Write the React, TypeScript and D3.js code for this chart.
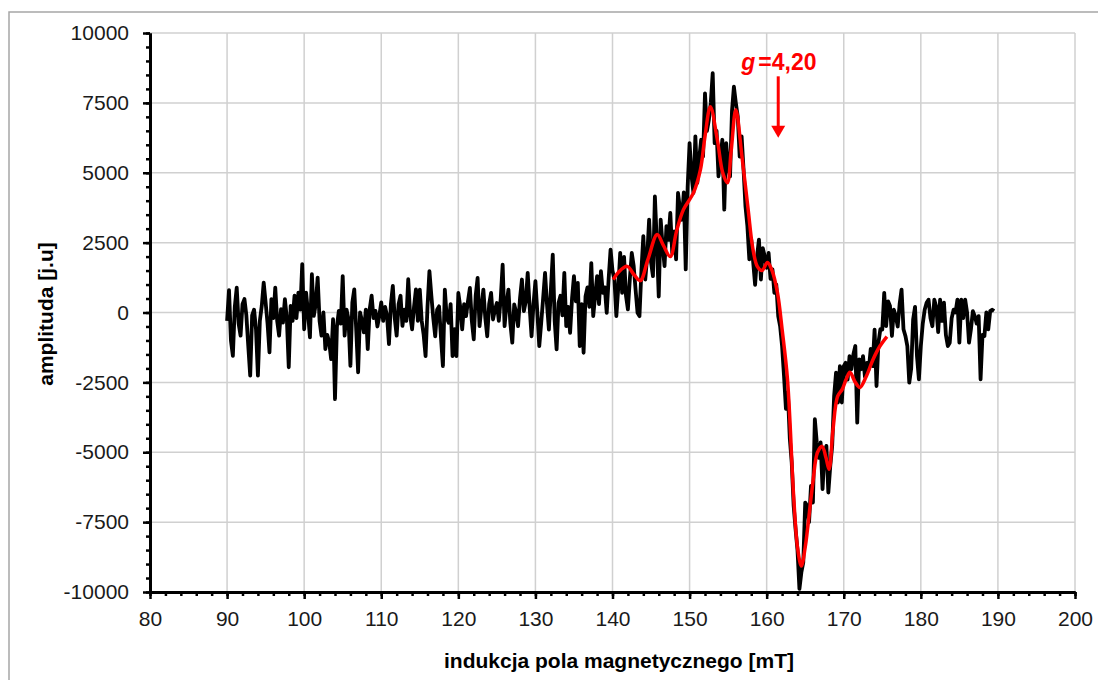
import React, { useEffect, useRef } from "react";
import * as d3 from "d3";

// measured spectrum: field sweep 90 .. 189.5 mT, step 0.25 mT
const fieldStart = 90;
const fieldStep = 0.25;

const amp090 = [
  -300, 800, -1000, -1550, 200, 890, -400, -830, 300, 480,
  -100, -1200, -2260, -100, 100, -600, -2260, -300, 240, 1070,
  360, -400, -1430, 480, -200, 890, -300, -830, 120, -360,
  480, -200, -1960, 240, -300, 600, -200, 710, 100, 1730,
];
const amp100 = [
  -600, 710, 0, -890, 1370, -120, 300, 1250, -300, -830,
  0, -1310, -800, -1070, -1670, -240, -3100, -500, 60, -400,
  1300, -830, 100, -240, -1910, 360, 830, -600, -2140, 0,
  -300, -710, 100, -1310, 120, 600, -200, 60, -500, -120,
];
const amp110 = [
  360, -300, 200, -120, -1130, 300, 950, -200, -830, 300,
  600, -480, 100, -300, 1190, -100, -600, 200, 830, -300,
  820, -300, -800, -1560, 200, 1480, 600, -200, -850, 100,
  220, -900, -1920, 820, -200, -370, 300, -1560, -600, -1560,
];
const amp120 = [
  700, 200, -600, 300, -130, 400, 880, -300, -960, 600,
  1240, -490, 200, 820, -200, -850, 300, 700, -250, 100,
  340, -300, 500, 1710, -490, 300, 820, -400, -1080, 290,
  0, -490, 500, 1180, 50, 400, 1420, 200, -850, 300,
];
const amp130 = [
  1120, 0, -1200, -370, 500, 1420, 300, -610, 800, 2070,
  -300, -1320, 340, 600, -100, 1420, -490, 200, -730, 500,
  1300, 400, 1060, -1200, 300, -1440, 580, 900, 200, 1770,
  -130, 600, 1300, 300, 1480, 700, 900, -10, 1200, 2250,
];
const amp140 = [
  1500, 1180, -130, 900, 2130, 700, 1990, 600, 110, 1200,
  2130, 1660, 800, -10, -130, 1500, 2730, 1180, 2000, 3320,
  1800, 1300, 4150, 2500, 570, 3320, 2400, 1660, 3090, 2600,
  3560, 2130, 2900, 1900, 4280, 3700, 3320, 4300, 1540, 4500,
];
const amp150 = [
  6060, 4900, 4280, 6300, 4640, 5500, 6180, 5580, 7840, 6500,
  6890, 7500, 8560, 6060, 6500, 4870, 5500, 6180, 3680, 6060,
  5200, 4870, 7200, 8080, 7500, 7010, 5580, 6300, 5120, 3800,
  3090, 1900, 2610, 1800, 990, 2000, 2610, 1180, 2300, 2010,
];
const amp160 = [
  1600, 2130, 1200, 1540, 700, 1000, -130, -500, -1200, -2270,
  -3450, -2870, -4500, -5370, -6910, -7750, -8500, -9890, -9300, -8940,
  -6800, -6910, -7500, -6200, -6800, -3820, -4650, -5200, -4650, -6320,
  -5000, -4770, -6440, -5500, -4770, -2990, -2150, -3220, -1920, -3220,
];
const amp170 = [
  -1920, -1800, -2400, -1560, -2030, -1500, -1200, -3940, -1680, -2030,
  -1560, -2300, -1800, -2030, -1300, -1920, -610, -2630, -1080, -600,
  -610, 700, -490, 400, 230, -840, 100, -130, -500, 300,
  820, -600, -840, -1200, -2510, -2000, -250, 200, -1560, -2390,
];
const amp180 = [
  -1200, -400, 100, 350, 460, -200, -490, 460, 200, -700,
  460, -300, 350, -800, -1200, -1080, -200, 100, 0, 460,
  -1080, 460, -200, 460, 0, -1080, -600, 50, -130, -400,
  -130, -2390, -800, -840, 0, -600, 50, 100, 50,
];

const amplitude = [
  ...amp090, ...amp100, ...amp110, ...amp120, ...amp130,
  ...amp140, ...amp150, ...amp160, ...amp170, ...amp180,
];

// smoothed fit (red)
const fitField = [
  140.1, 140.8, 141.9, 142.8, 143.6, 144.6, 145.8, 146.6, 147.5, 148.3,
  149.2, 150.5, 151.4, 152.0, 152.7, 153.6, 154.3, 154.9, 155.4, 156.0,
  156.8, 157.6, 158.2, 158.8, 159.4, 160.1, 160.7, 161.4, 162.0, 162.7,
  163.5, 164.0, 164.5, 165.0, 165.3, 166.0, 166.6, 167.2, 167.7, 168.1,
  168.6, 169.2, 169.8, 170.3, 170.8, 171.5, 172.1, 172.9, 173.8, 174.7,
  175.6,
];
const fitAmp = [
  1180, 1450, 1650, 1350, 1140, 1900, 2790, 2400, 2000, 2900,
  3680, 4280, 5100, 6300, 7360, 6180, 5000, 4640, 5800, 7250,
  5570, 3680, 2300, 1640, 1500, 1790, 1500, 710, -600, -2390,
  -6570, -8400, -9070, -8400, -7750, -6070, -5000, -4790, -5200, -5610,
  -4200, -3000, -2750, -2400, -2140, -2500, -2680, -2300, -1680, -1200,
  -860,
];

const xMajor = d3.range(80, 201, 10);
const xMinor = d3.range(80, 201, 2);
const yMajor = d3.range(-10000, 10001, 2500);
const yMinor = d3.range(-10000, 10001, 500);

// g-factor marker
const gLabel = "4,20";
const gField = 161.5;
const gArrowTop = 8450;
const gArrowTip = 6250;

const svgWidth = 1098;
const svgHeight = 680;
const font = "'Liberation Sans', Arial, sans-serif";

function App() {
  const svgRef = useRef(null);

  useEffect(() => {
    const svg = d3.select(svgRef.current);
    svg.selectAll("*").remove();

    const left = 150, right = 1075, top = 33, bottom = 592;

    const x = d3.scaleLinear().domain([80, 200]).range([left, right]);
    const y = d3.scaleLinear().domain([-10000, 10000]).range([bottom, top]);

    // outer chart frame (only top and left visible)
    svg.append("path")
      .attr("d", `M9,${svgHeight} L9,12 L${svgWidth},12`)
      .attr("fill", "none")
      .attr("stroke", "#a6a6a6")
      .attr("stroke-width", 1.5);

    // grid
    svg.append("g")
      .selectAll("line")
      .data(xMajor.slice(1))
      .join("line")
      .attr("x1", (d) => x(d))
      .attr("x2", (d) => x(d))
      .attr("y1", top)
      .attr("y2", bottom)
      .attr("stroke", "#d0d0d0")
      .attr("stroke-width", 1.5);

    svg.append("g")
      .selectAll("line")
      .data(yMajor.slice(1))
      .join("line")
      .attr("x1", left)
      .attr("x2", right)
      .attr("y1", (d) => y(d))
      .attr("y2", (d) => y(d))
      .attr("stroke", "#d0d0d0")
      .attr("stroke-width", 1.5);

    // data
    const spectrum = amplitude.map((a, i) => [fieldStart + i * fieldStep, a]);
    const fit = fitField.map((f, i) => [f, fitAmp[i]]);

    const line = d3.line()
      .x((d) => x(d[0]))
      .y((d) => y(d[1]));

    svg.append("path")
      .datum(spectrum)
      .attr("d", line)
      .attr("fill", "none")
      .attr("stroke", "#000")
      .attr("stroke-width", 3.8)
      .attr("stroke-linejoin", "round");

    svg.append("path")
      .datum(fit)
      .attr("d", line.curve(d3.curveCatmullRom.alpha(0.5)))
      .attr("fill", "none")
      .attr("stroke", "#ff0000")
      .attr("stroke-width", 3.5)
      .attr("stroke-linejoin", "round");

    // axes
    const styleAxis = (g) => {
      g.select(".domain").attr("stroke", "#000").attr("stroke-width", 3);
      g.selectAll(".tick line").attr("stroke", "#000").attr("stroke-width", 2.5);
      g.selectAll("text")
        .attr("fill", "#1a1a1a")
        .style("font-family", font)
        .style("font-size", "21px");
    };
    const plain = (d) => String(d);

    svg.append("g")
      .attr("transform", `translate(0,${bottom})`)
      .call(d3.axisBottom(x).tickValues(xMinor).tickSize(4).tickFormat(() => "").tickSizeOuter(0))
      .call(styleAxis);
    svg.append("g")
      .attr("transform", `translate(0,${bottom})`)
      .call(d3.axisBottom(x).tickValues(xMajor).tickSize(7).tickPadding(12).tickFormat(plain).tickSizeOuter(0))
      .call(styleAxis);

    svg.append("g")
      .attr("transform", `translate(${left},0)`)
      .call(d3.axisLeft(y).tickValues(yMinor).tickSize(4).tickFormat(() => "").tickSizeOuter(0))
      .call(styleAxis);
    svg.append("g")
      .attr("transform", `translate(${left},0)`)
      .call(d3.axisLeft(y).tickValues(yMajor).tickSize(7).tickPadding(14).tickFormat(plain).tickSizeOuter(0))
      .call(styleAxis);

    // axis titles
    svg.append("text")
      .attr("x", 619)
      .attr("y", 668)
      .attr("text-anchor", "middle")
      .style("font-family", font)
      .style("font-size", "21px")
      .style("font-weight", "bold")
      .text("indukcja pola magnetycznego [mT]");

    svg.append("text")
      .attr("transform", `translate(53,314) rotate(-90)`)
      .attr("text-anchor", "middle")
      .style("font-family", font)
      .style("font-size", "21px")
      .style("font-weight", "bold")
      .text("amplituda [j.u]");

    // g-factor annotation
    const ax = x(gField);
    svg.append("line")
      .attr("x1", ax)
      .attr("x2", ax)
      .attr("y1", y(gArrowTop))
      .attr("y2", y(gArrowTip) - 10)
      .attr("stroke", "#ff0000")
      .attr("stroke-width", 3);
    svg.append("path")
      .attr("d", `M${ax - 7},${y(gArrowTip) - 12} L${ax + 7},${y(gArrowTip) - 12} L${ax},${y(gArrowTip)} Z`)
      .attr("fill", "#ff0000");

    const gt = svg.append("text")
      .attr("x", ax - 37)
      .attr("y", y(gArrowTop) - 6)
      .attr("fill", "#ff0000")
      .style("font-family", font)
      .style("font-size", "23px")
      .style("font-weight", "bold");
    gt.append("tspan").style("font-style", "italic").text("g");
    gt.append("tspan").attr("dx", 3).text("=");
    gt.append("tspan").text(gLabel);
  }, []);

  return (
    <div style={{ position: "absolute", left: 0, top: 0 }}>
      <svg ref={svgRef} width={svgWidth} height={svgHeight} style={{ display: "block", background: "#fff" }}></svg>
    </div>
  );
}

export default App;
